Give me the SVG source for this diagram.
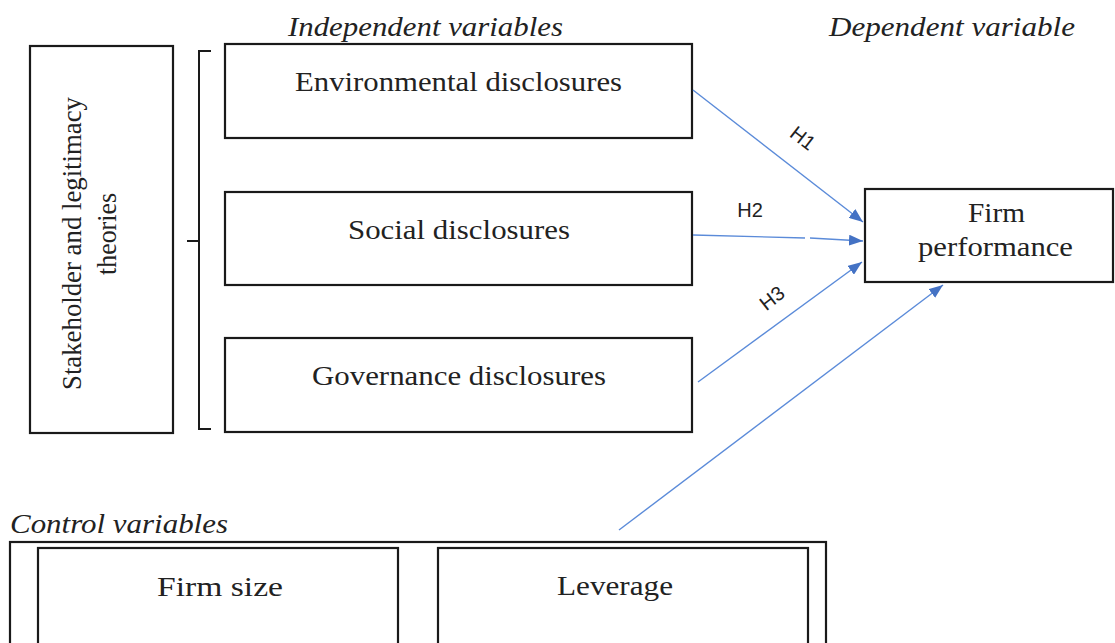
<svg xmlns="http://www.w3.org/2000/svg" width="1115" height="643" viewBox="0 0 1115 643">
<defs>
<style>
.box{fill:#fff;stroke:#1a1a1a;stroke-width:2.2}
.t{font-family:"Liberation Serif","Times New Roman",serif;font-size:27px;fill:#222;text-anchor:middle}
.it{font-family:"Liberation Serif","Times New Roman",serif;font-size:27px;font-style:italic;fill:#222}
.h{font-family:"Liberation Sans",Arial,sans-serif;font-size:20px;fill:#222;text-anchor:middle}
.c{stroke:#5b8bd9;stroke-width:1.4;fill:none;marker-end:url(#ah)}
</style>
<marker id="ah" viewBox="0 0 10 10" refX="10" refY="5" markerWidth="14" markerHeight="11" markerUnits="userSpaceOnUse" orient="auto" preserveAspectRatio="none">
<path d="M0,0 L10,5 L0,10 z" fill="#4472c4"/>
</marker>
</defs>
<rect width="1115" height="643" fill="#fff"/>
<text class="it" x="425.5" y="36" text-anchor="middle" textLength="275" lengthAdjust="spacingAndGlyphs">Independent variables</text>
<text class="it" x="952" y="36" text-anchor="middle" textLength="246" lengthAdjust="spacingAndGlyphs">Dependent variable</text>
<text class="it" x="10" y="533" textLength="218" lengthAdjust="spacingAndGlyphs">Control variables</text>
<g id="theories">
<rect class="box" x="30" y="46" width="143" height="387"/>
<text class="t" transform="translate(81,243.5) rotate(-90)" textLength="293" lengthAdjust="spacingAndGlyphs">Stakeholder and legitimacy</text>
<text class="t" transform="translate(116,234) rotate(-90)" textLength="82" lengthAdjust="spacingAndGlyphs">theories</text>
</g>
<g id="bracket">
<path d="M211,51 H199 V429 H211 M199,241 H187" fill="none" stroke="#1a1a1a" stroke-width="2"/>
</g>
<g id="env">
<rect class="box" x="225" y="44" width="467" height="94"/>
<text class="t" x="458.5" y="91" textLength="327" lengthAdjust="spacingAndGlyphs">Environmental disclosures</text>
</g>
<g id="social">
<rect class="box" x="225" y="192" width="467" height="93"/>
<text class="t" x="459" y="239" textLength="222" lengthAdjust="spacingAndGlyphs">Social disclosures</text>
</g>
<g id="gov">
<rect class="box" x="225" y="338" width="467" height="94"/>
<text class="t" x="459" y="385" textLength="294" lengthAdjust="spacingAndGlyphs">Governance disclosures</text>
</g>
<g id="perf">
<rect class="box" x="865" y="189" width="248" height="93"/>
<text class="t" x="996.5" y="222" textLength="57" lengthAdjust="spacingAndGlyphs">Firm</text>
<text class="t" x="995.5" y="256" textLength="155" lengthAdjust="spacingAndGlyphs">performance</text>
</g>
<g id="controls">
<rect class="box" x="10" y="542" width="816" height="110"/>
</g>
<g id="size">
<rect class="box" x="38" y="548" width="360" height="104"/>
<text class="t" x="220" y="596" textLength="126" lengthAdjust="spacingAndGlyphs">Firm size</text>
</g>
<g id="leverage">
<rect class="box" x="438" y="548" width="370" height="104"/>
<text class="t" x="615" y="595" textLength="116" lengthAdjust="spacingAndGlyphs">Leverage</text>
</g>
<g id="connectors">
<line class="c" x1="693" y1="90" x2="863" y2="222"/>
<path d="M693,235 L805,238 M810,238 L863,241" stroke="#5b8bd9" stroke-width="1.4" fill="none" marker-end="url(#ah)"/>
<line class="c" x1="698" y1="382" x2="862" y2="262"/>
<line class="c" x1="619" y1="530" x2="943" y2="285"/>
<text class="h" transform="translate(803,138) rotate(38)" dy="7">H1</text>
<text class="h" x="750" y="217">H2</text>
<text class="h" transform="translate(772,298) rotate(-38)" dy="7">H3</text>
</g>
</svg>
